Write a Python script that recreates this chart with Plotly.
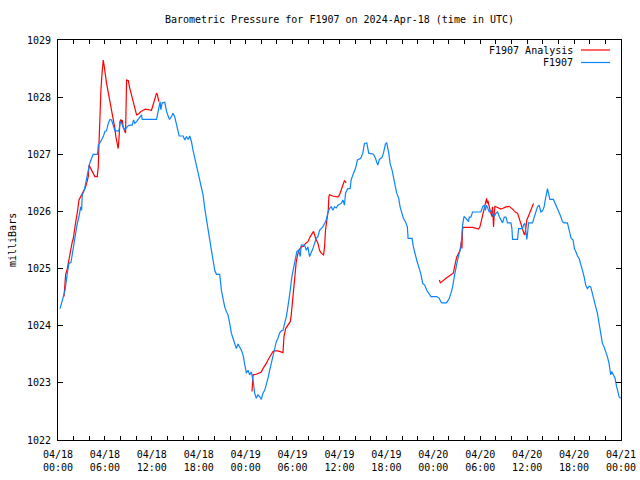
import plotly.graph_objects as go

# ---------------- data (hours since 2024-04-18 00:00 UTC, millibars) ----------------
station_hours = [
    0.26, 0.64, 0.90, 1.19, 1.40, 1.66, 1.83, 2.08, 2.26, 2.43, 2.68, 2.90, 3.02, 3.10, 3.36, 3.54,
    3.66, 3.87, 4.05, 4.30, 4.50, 5.06, 5.15, 5.45, 5.79, 6.00, 6.20, 6.43, 6.64, 6.85, 7.07, 7.28,
    7.79, 7.96, 8.13, 8.34, 8.55, 8.77, 8.98, 9.19, 9.49, 9.66, 9.83, 10.05, 10.26, 10.47, 10.68, 10.77,
    12.60, 12.72, 12.89, 13.06, 13.15, 13.32, 13.66, 13.88, 14.09, 14.26, 14.51, 14.72, 14.94, 15.15,
    15.36, 15.49, 16.00, 16.21, 16.43, 16.64, 16.85, 17.07, 17.27, 17.49, 17.71, 17.91, 18.13, 18.35,
    18.55, 18.77, 18.98, 19.19, 19.40, 19.62, 19.83, 20.04, 20.26, 20.68, 20.90, 21.10, 21.32, 21.54,
    21.74, 21.96, 22.17, 22.38, 22.60, 22.81, 23.02, 23.23, 23.45, 23.66, 23.87, 24.09, 24.30, 24.51,
    24.72, 24.94, 25.15, 25.36, 25.57, 25.79, 26.00, 26.21, 26.43, 26.64, 26.85, 27.07, 27.28, 27.49,
    27.70, 27.92, 28.13, 28.34, 28.56, 28.77, 28.98, 29.20, 29.40, 29.53, 29.70, 29.91, 30.13, 30.34,
    30.55, 30.77, 30.98, 31.11, 31.53, 31.75, 31.96, 32.17, 32.39, 32.60, 32.81, 33.02, 33.24, 33.45,
    33.66, 33.87, 34.09, 34.30, 34.51, 34.72, 34.94, 35.15, 35.36, 35.58, 35.79, 36.00, 36.22, 36.43,
    36.64, 36.77, 37.06, 37.36, 37.49, 37.79, 38.04, 38.30, 38.72, 38.98, 39.19, 39.49, 39.74, 40.34,
    40.60, 40.89, 41.11, 41.45, 41.62, 41.87, 42.04, 42.30, 42.47, 42.73, 42.89, 43.15, 43.32, 43.57,
    43.75, 44.00, 44.17, 44.43, 44.68, 44.77, 45.28, 45.45, 45.62, 45.87, 46.13, 46.38, 46.64, 46.90,
    47.15, 47.40, 47.70, 48.43, 48.77, 48.94, 49.10, 49.70, 50.04, 50.26, 50.47, 50.68, 50.90, 51.10,
    51.32, 51.54, 51.74, 51.92, 52.17, 52.38, 52.50, 52.60, 52.80, 53.02, 54.09, 54.30, 54.51, 54.64,
    54.80, 55.15, 55.37, 55.57, 55.79, 56.00, 56.21, 56.43, 56.64, 56.85, 57.07, 57.28, 57.49, 57.92,
    58.05, 58.13, 58.77, 58.90, 59.40, 59.53, 59.71, 59.83, 59.96, 60.09, 60.17, 60.68, 60.90, 61.11,
    61.32, 61.53, 61.75, 61.96, 62.17, 62.30, 62.47, 62.60, 62.72, 62.90, 63.36, 63.58, 63.87, 64.09,
    64.30, 64.51, 64.73, 65.15, 65.28, 65.45, 65.62, 65.87, 66.04, 66.22, 66.43, 66.64, 66.85, 67.07,
    67.28, 67.49, 67.70, 67.92, 68.13, 68.35, 68.56, 68.77, 68.98, 69.19, 69.41, 69.62, 69.83, 70.05,
    70.26, 70.47, 70.68, 70.81, 70.98, 71.24, 71.40, 71.58, 71.75, 71.95,
]
station_mb = [
    1024.30, 1024.51, 1024.62, 1024.92, 1025.09, 1025.11, 1025.27, 1025.44, 1025.59, 1025.76, 1025.91,
    1026.08, 1026.02, 1026.29, 1026.37, 1026.49, 1026.61, 1026.75, 1026.84, 1026.93, 1027.00, 1027.00,
    1027.16, 1027.22, 1027.31, 1027.40, 1027.41, 1027.54, 1027.61, 1027.60, 1027.48, 1027.41, 1027.41,
    1027.57, 1027.55, 1027.47, 1027.43, 1027.47, 1027.50, 1027.51, 1027.51, 1027.60, 1027.54, 1027.57,
    1027.61, 1027.65, 1027.69, 1027.61, 1027.61, 1027.69, 1027.83, 1027.92, 1027.78, 1027.90, 1027.91,
    1027.75, 1027.67, 1027.61, 1027.66, 1027.72, 1027.65, 1027.54, 1027.43, 1027.32, 1027.32, 1027.25,
    1027.31, 1027.26, 1027.32, 1027.22, 1027.07, 1026.93, 1026.84, 1026.70, 1026.55, 1026.43, 1026.29,
    1026.05, 1025.85, 1025.68, 1025.44, 1025.32, 1025.15, 1024.97, 1024.90, 1024.90, 1024.62, 1024.45,
    1024.33, 1024.25, 1024.19, 1024.04, 1023.87, 1023.78, 1023.69, 1023.60, 1023.68, 1023.63, 1023.57,
    1023.49, 1023.34, 1023.17, 1023.22, 1023.14, 1023.19, 1023.05, 1022.82, 1022.73, 1022.79, 1022.76,
    1022.71, 1022.82, 1022.87, 1022.96, 1023.08, 1023.22, 1023.34, 1023.43, 1023.60, 1023.72, 1023.78,
    1023.87, 1023.91, 1023.92, 1024.04, 1024.16, 1024.33, 1024.51, 1024.62, 1024.86, 1025.03, 1025.21,
    1025.30, 1025.32, 1025.21, 1025.41, 1025.41, 1025.32, 1025.38, 1025.21, 1025.27, 1025.35, 1025.44,
    1025.53, 1025.56, 1025.67, 1025.70, 1025.73, 1025.79, 1025.85, 1025.97, 1026.05, 1026.08, 1026.02,
    1026.08, 1026.06, 1026.11, 1026.13, 1026.14, 1026.20, 1026.11, 1026.32, 1026.40, 1026.40, 1026.55,
    1026.67, 1026.75, 1026.90, 1026.93, 1027.02, 1027.19, 1027.20, 1027.02, 1027.00, 1026.93, 1026.81,
    1026.91, 1026.95, 1027.02, 1027.18, 1027.20, 1027.02, 1026.84, 1026.72, 1026.58, 1026.43, 1026.32,
    1026.23, 1026.08, 1025.97, 1025.88, 1025.82, 1025.73, 1025.53, 1025.53, 1025.38, 1025.27, 1025.15,
    1025.03, 1024.92, 1024.74, 1024.71, 1024.62, 1024.57, 1024.51, 1024.51, 1024.48, 1024.42, 1024.40,
    1024.40, 1024.48, 1024.57, 1024.68, 1024.86, 1025.03, 1025.15, 1025.27, 1025.38, 1025.76, 1025.91,
    1025.88, 1025.85, 1025.82, 1025.90, 1025.90, 1025.99, 1025.99, 1026.08, 1026.11, 1026.02, 1026.11,
    1025.99, 1026.02, 1025.94, 1025.91, 1025.97, 1025.99, 1025.91, 1025.85, 1025.80, 1025.90, 1025.90,
    1025.80, 1025.80, 1025.70, 1025.51, 1025.51, 1025.70, 1025.70, 1025.76, 1025.79, 1025.59, 1025.51,
    1025.67, 1025.80, 1025.80, 1025.91, 1025.99, 1026.08, 1026.11, 1025.99, 1026.01, 1026.08, 1026.19,
    1026.30, 1026.40, 1026.32, 1026.21, 1026.21, 1026.14, 1026.08, 1025.99, 1025.91, 1025.82, 1025.80,
    1025.80, 1025.73, 1025.65, 1025.53, 1025.50, 1025.35, 1025.30, 1025.22, 1025.18, 1025.09, 1024.97,
    1024.86, 1024.71, 1024.65, 1024.69, 1024.68, 1024.54, 1024.42, 1024.33, 1024.22, 1024.04, 1023.81,
    1023.69, 1023.63, 1023.55, 1023.46, 1023.34, 1023.14, 1023.20, 1023.14, 1023.08, 1022.96, 1022.87,
    1022.76, 1022.73,
]

# analysis series comes in three separate runs (gaps between them)
analysis_hours_1 = [
    0.77, 0.85, 0.98, 1.15, 1.32, 1.53, 1.66, 1.83, 1.96, 2.17, 2.34, 2.51, 2.68, 2.85, 3.02, 3.23,
    3.45, 3.66, 3.87, 3.96, 4.09, 4.30, 4.50, 4.72, 5.02, 5.15, 5.22, 5.28, 5.36, 5.49, 5.66, 5.79,
    5.92, 6.00, 6.09, 6.21, 6.34, 6.51, 6.68, 6.85, 7.07, 7.28, 7.40, 7.57, 7.70, 7.79, 7.92, 8.04,
    8.13, 8.21, 8.34, 8.55, 8.64, 8.77, 8.98, 9.19, 9.40, 9.62, 9.83, 10.05, 10.34, 10.60, 10.90, 11.19,
    11.96, 12.17, 12.38, 12.60, 12.72, 12.89,
]
analysis_mb_1 = [
    1024.51, 1024.74, 1024.90, 1024.97, 1025.12, 1025.27, 1025.35, 1025.47, 1025.53, 1025.73, 1025.85,
    1026.02, 1026.20, 1026.26, 1026.29, 1026.35, 1026.40, 1026.49, 1026.61, 1026.81, 1026.78, 1026.72,
    1026.67, 1026.61, 1026.61, 1026.78, 1027.10, 1027.45, 1027.80, 1028.13, 1028.47, 1028.65, 1028.53,
    1028.47, 1028.36, 1028.24, 1028.15, 1028.01, 1027.89, 1027.77, 1027.60, 1027.45, 1027.31, 1027.19,
    1027.10, 1027.25, 1027.57, 1027.61, 1027.54, 1027.60, 1027.48, 1027.40, 1027.37, 1028.30, 1028.29,
    1028.15, 1028.04, 1027.92, 1027.77, 1027.69, 1027.71, 1027.75, 1027.77, 1027.79, 1027.77, 1027.86,
    1027.95, 1028.07, 1028.04, 1027.92,
]
analysis_hours_2 = [
    24.81, 24.85, 24.94, 25.36, 25.79, 26.00, 26.21, 26.43, 26.64, 26.85, 27.07, 27.28, 27.49, 27.70,
    28.13, 28.77, 28.90, 29.11, 29.40, 29.70, 29.83, 30.04, 30.17, 30.34, 30.47, 30.64, 30.81, 31.11,
    31.40, 31.66, 31.96, 32.26, 32.51, 32.68, 32.94, 33.24, 33.45, 33.66, 33.96, 34.09, 34.21, 34.38,
    34.56, 34.64, 34.72, 35.15, 35.79, 36.00, 36.22, 36.43, 36.64, 36.86,
]
analysis_mb_2 = [
    1022.85, 1022.99, 1023.14, 1023.15, 1023.17, 1023.19, 1023.25, 1023.29, 1023.34, 1023.40, 1023.46,
    1023.50, 1023.55, 1023.56, 1023.56, 1023.53, 1023.81, 1023.95, 1024.01, 1024.07, 1024.19, 1024.51,
    1024.74, 1024.94, 1025.12, 1025.24, 1025.32, 1025.38, 1025.39, 1025.44, 1025.47, 1025.56, 1025.62,
    1025.65, 1025.53, 1025.44, 1025.32, 1025.27, 1025.24, 1025.38, 1025.67, 1025.88, 1026.02, 1026.26,
    1026.29, 1026.27, 1026.25, 1026.29, 1026.38, 1026.46, 1026.54, 1026.50,
]
analysis_hours_3 = [
    48.77, 48.90, 49.62, 50.04, 50.55, 50.81, 50.98, 51.23, 51.41, 51.58, 51.66, 51.74, 51.87, 53.02,
    53.45, 53.79, 53.96, 54.17, 54.39, 54.55, 54.73, 54.81, 54.90, 54.98, 55.15, 55.37, 55.48, 55.57,
    55.66, 55.70, 55.79, 55.88, 56.21, 56.43, 56.64, 56.85, 57.28, 57.70, 57.92, 58.13, 58.34, 58.56,
    58.77, 58.90, 59.07, 59.28, 59.49, 59.62, 59.71, 59.83, 59.96, 60.17, 60.38, 60.60, 60.81,
]
analysis_mb_3 = [
    1024.80, 1024.75, 1024.83, 1024.87, 1024.92, 1025.09, 1025.20, 1025.27, 1025.32, 1025.47, 1025.35,
    1025.70, 1025.72, 1025.72, 1025.70, 1025.69, 1025.73, 1025.85, 1025.97, 1026.05, 1026.14, 1026.23,
    1026.14, 1026.19, 1026.08, 1025.97, 1025.91, 1026.08, 1025.79, 1025.73, 1025.97, 1026.09, 1026.07,
    1026.05, 1026.04, 1026.05, 1026.08, 1026.09, 1026.07, 1026.04, 1026.01, 1025.98, 1025.97, 1025.91,
    1025.84, 1025.75, 1025.67, 1025.60, 1025.59, 1025.70, 1025.85, 1025.92, 1025.99, 1026.08, 1026.14,
]

tick_hours = [0, 6, 12, 18, 24, 30, 36, 42, 48, 54, 60, 66, 72]
tick_dates = ["04/18", "04/18", "04/18", "04/18", "04/19", "04/19", "04/19", "04/19",
              "04/20", "04/20", "04/20", "04/20", "04/21"]
tick_times = ["00:00", "06:00", "12:00", "18:00", "00:00", "06:00", "12:00", "18:00",
              "00:00", "06:00", "12:00", "18:00", "00:00"]
y_ticks = [1022, 1023, 1024, 1025, 1026, 1027, 1028, 1029]

series_names = ["F1907 Analysis", "F1907"]
series_colors = ["#ff0000", "#0a84ff"]
title_text = "Barometric Pressure for F1907 on 2024-Apr-18 (time in UTC)"
y_label = "milliBars"

# ---------------- build ----------------
analysis_x = analysis_hours_1 + [None] + analysis_hours_2 + [None] + analysis_hours_3
analysis_y = analysis_mb_1 + [None] + analysis_mb_2 + [None] + analysis_mb_3

FONT = "DejaVu Sans Mono"
W, H = 640, 480
# plot-area box in page pixels
L, R, T, B = 58, 621, 40, 440
pw, ph = R - L, B - T


def px(x):
    return (x - L) / pw


def py(y):
    return (B - y) / ph


fig = go.Figure()
fig.add_trace(go.Scatter(x=analysis_x, y=analysis_y, mode="lines", name=series_names[0],
                         line=dict(color=series_colors[0], width=1.2), connectgaps=False,
                         hoverinfo="skip"))
fig.add_trace(go.Scatter(x=station_hours, y=station_mb, mode="lines", name=series_names[1],
                         line=dict(color=series_colors[1], width=1.2), hoverinfo="skip"))

axis_common = dict(showgrid=False, zeroline=False, showline=True, linecolor="black",
                   linewidth=1, mirror="allticks", ticks="inside", tickcolor="black",
                   tickwidth=1, tickfont=dict(family=FONT, size=10, color="black"))

fig.update_xaxes(range=[0, 72], tickmode="array", tickvals=tick_hours,
                 ticktext=[d + "<br>" + t for d, t in zip(tick_dates, tick_times)],
                 ticklen=4, ticklabelstandoff=5,
                 minor=dict(dtick=2, tick0=0, ticks="inside", ticklen=4, tickcolor="black"),
                 **axis_common)
fig.update_yaxes(range=[1022, 1029], tickmode="array", tickvals=y_ticks,
                 ticktext=[str(v) for v in y_ticks], ticklen=5, ticklabelstandoff=4,
                 **axis_common)

annotations = [
    dict(text=y_label, xref="paper", yref="paper", x=px(12), y=0.5, textangle=-90,
         showarrow=False, xanchor="center", yanchor="middle",
         font=dict(family=FONT, size=10, color="black")),
]
shapes = []
for i, (nm, col) in enumerate(zip(series_names, series_colors)):
    yy = 50 + i * 12.5
    annotations.append(dict(text=nm, xref="paper", yref="paper", x=px(575), y=py(yy),
                            xanchor="right", yanchor="middle", showarrow=False,
                            font=dict(family=FONT, size=10, color="black")))
    shapes.append(dict(type="line", xref="paper", yref="paper", x0=px(581), x1=px(610),
                       y0=py(yy), y1=py(yy), line=dict(color=col, width=1.2)))

fig.update_layout(
    width=W, height=H,
    margin=dict(l=L, r=W - R, t=T, b=H - B, autoexpand=False),
    paper_bgcolor="white", plot_bgcolor="white",
    showlegend=False,
    title=dict(text=title_text, x=0.5, xref="paper", xanchor="center",
               y=1 - 19 / H, yref="container", yanchor="middle",
               font=dict(family=FONT, size=10, color="black")),
    annotations=annotations, shapes=shapes,
)

fig.write_html("out.html", config={"displayModeBar": False},
               post_script="document.body.style.margin='0';document.body.style.overflow='hidden';")
